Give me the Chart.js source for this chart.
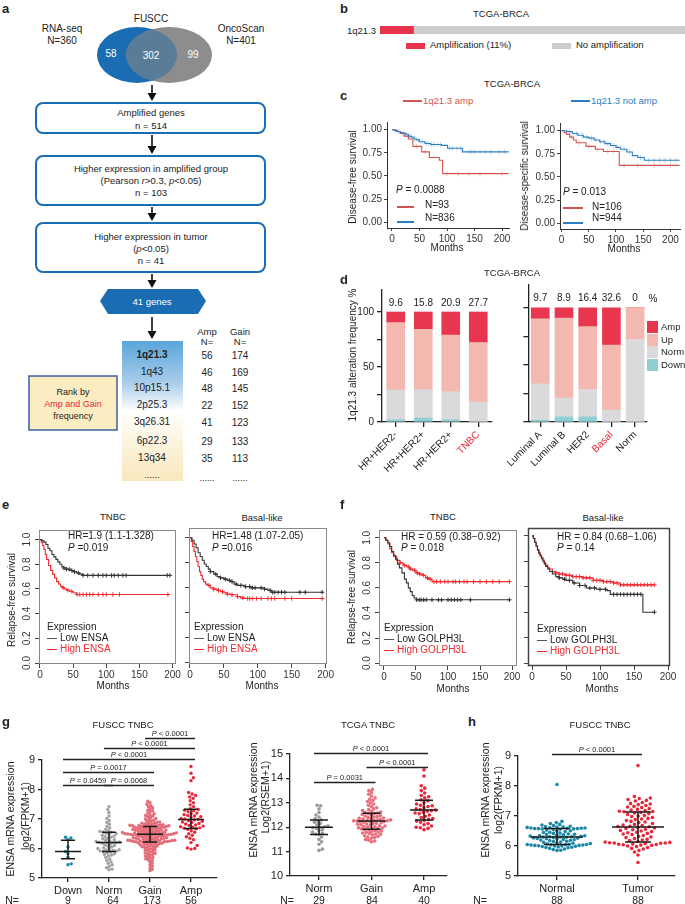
<!DOCTYPE html>
<html><head><meta charset="utf-8">
<script src="https://cdn.jsdelivr.net/npm/chart.js@4.4.1/dist/chart.umd.min.js"></script>
<style>
html,body{margin:0;padding:0;background:#fff;}
body{width:685px;height:904px;position:relative;overflow:hidden;font-family:"Liberation Sans",Arial,sans-serif;color:#222;}
.t{position:absolute;white-space:nowrap;line-height:1;}
.ln{position:absolute;}
canvas{position:absolute;}
svg{position:absolute;left:0;top:0;}
</style></head><body>
<svg id="flow" width="685" height="904"></svg>
<script>
// ================= DATA =================
// panel a
const vennSets=['RNA-seq','OncoScan'];
const vennTotals=[360,401];
const vennParts=[58,302,99];
const flowCounts=[514,103,41];
const regions=['1q21.3','1q43','10p15.1','2p25.3','3q26.31','6p22.3','13q34'];
const regionAmpN=[56,46,48,22,41,29,35];
const regionGainN=[174,169,145,152,123,133,113];
// panel b
const ampPercent=11;
// panel c (Kaplan-Meier, TCGA-BRCA)
const dfsAmpT=[0,8,15,22,30,38,54,68,86,92,212];
const dfsAmpS=[1,0.98,0.96,0.93,0.90,0.82,0.76,0.70,0.67,0.525,0.525];
const dfsAmpCens=[20,28,45,60,100,120,140,160,200];
const dfsNotT=[0,5,10,15,20,25,30,35,40,45,50,60,70,80,90,101,128,212];
const dfsNotS=[1,0.99,0.98,0.97,0.96,0.95,0.93,0.92,0.90,0.89,0.87,0.85,0.84,0.84,0.83,0.80,0.76,0.76];
const dfsNotCens=[12,25,33,42,48,55,62,66,72,76,82,88,105,110,118,125,140,145,150,160,170,180,195,205];
const dssAmpT=[0,5,9,15,22,27,45,62,77,106,217];
const dssAmpS=[1,0.98,0.96,0.93,0.90,0.87,0.83,0.80,0.775,0.625,0.625];
const dssAmpCens=[18,32,50,65,85,95,115,140,170,200];
const dssNotT=[0,10,20,30,40,50,60,70,80,90,100,108,120,130,140,152,217];
const dssNotS=[1,0.99,0.97,0.95,0.93,0.92,0.90,0.88,0.86,0.84,0.82,0.80,0.77,0.73,0.71,0.68,0.68];
const dssNotCens=[15,28,38,46,55,63,72,78,85,95,102,115,125,145,160,170,180,190,200,210];
// panel d
const dCatsL=['HR+HER2-','HR+HER2+','HR-HER2+','TNBC'];
const dDownL=[2,3.5,2,0];
const dNormL=[27,26,25.5,18];
const dUpL=[61.4,54.7,51.6,54.3];
const dAmpL=[9.6,15.8,20.9,27.7];
const dCatsR=['Luminal A','Luminal B','HER2','Basal','Norm'];
const dDownR=[1.5,4.5,4.5,0,0];
const dNormR=[32,16.5,24,10.5,72.5];
const dUpR=[56.8,70.1,55.1,56.9,27.5];
const dAmpR=[9.7,8.9,16.4,32.6,0];
// panel e (ENSA)
const eTnbcLowT=[0,3,6,9,12,15,18,21,24,27,30,33,36,40,45,50,55,60,65,196];
const eTnbcLowS=[1,0.99,0.98,0.96,0.93,0.91,0.88,0.86,0.84,0.82,0.80,0.78,0.77,0.76,0.75,0.74,0.73,0.72,0.71,0.71];
const eTnbcLowCens=[36,40,44,48,52,58,65,72,80,88,95,100,108,112,118,125,130,192,196];
const eTnbcHighT=[0,2,4,6,8,10,13,16,19,22,25,28,31,34,37,40,45,50,55,195];
const eTnbcHighS=[1,0.98,0.95,0.92,0.88,0.84,0.79,0.75,0.72,0.69,0.66,0.64,0.62,0.61,0.60,0.59,0.58,0.57,0.555,0.555];
const eTnbcHighCens=[35,42,48,56,60,65,70,75,80,88,95,100,110,120,193];
const eBasLowT=[0,3,6,9,12,15,18,21,24,27,30,35,40,45,50,55,60,65,70,80,90,100,110,115,120,195];
const eBasLowS=[1,0.98,0.95,0.92,0.88,0.85,0.82,0.79,0.77,0.75,0.73,0.71,0.69,0.68,0.67,0.66,0.65,0.63,0.62,0.61,0.60,0.60,0.59,0.58,0.565,0.565];
const eBasLowCens=[30,38,45,52,58,62,68,75,82,88,92,96,105,110,118,122,125,130,135,140,162,170,195];
const eBasHighT=[0,2,4,6,8,10,12,14,16,18,20,23,26,30,35,40,45,50,55,60,70,75,80,195];
const eBasHighS=[1,0.97,0.93,0.89,0.85,0.81,0.77,0.73,0.70,0.67,0.65,0.63,0.62,0.60,0.59,0.58,0.57,0.56,0.55,0.545,0.53,0.52,0.515,0.515];
const eBasHighCens=[28,35,42,48,55,62,70,78,85,88,92,98,105,115,120,125,140,150,195];
// panel f (GOLPH3L)
const fTnbcLowT=[0,3,6,9,12,15,18,21,24,28,32,35,38,41,44,47,51,196];
const fTnbcLowS=[1,0.98,0.96,0.93,0.89,0.86,0.83,0.79,0.76,0.72,0.67,0.64,0.60,0.57,0.54,0.52,0.505,0.505];
const fTnbcLowCens=[51,55,58,62,66,75,85,90,100,105,110,115,120,135,196];
const fTnbcHighT=[0,3,6,9,12,15,20,25,30,35,40,45,50,55,60,65,70,75,196];
const fTnbcHighS=[1,0.98,0.95,0.91,0.88,0.85,0.82,0.80,0.78,0.77,0.75,0.74,0.72,0.71,0.70,0.68,0.67,0.65,0.65];
const fTnbcHighCens=[25,32,38,42,48,52,56,62,68,72,78,82,88,95,100,108,112,118,125,130,140,150,160,170,180,196];
const fBasLowT=[0,2,4,6,8,10,12,14,16,18,20,23,26,30,35,40,45,50,60,70,80,95,110,115,163,180];
const fBasLowS=[1,0.98,0.95,0.92,0.89,0.86,0.84,0.82,0.80,0.78,0.76,0.74,0.72,0.70,0.68,0.67,0.66,0.65,0.63,0.61,0.59,0.58,0.57,0.54,0.40,0.40];
const fBasLowCens=[40,48,55,62,70,78,85,92,100,108,120,125,130,135,140,145,150,155,160,180];
const fBasHighT=[0,2,4,6,8,10,12,14,16,18,20,23,26,30,35,40,50,60,75,90,105,120,130,180];
const fBasHighS=[1,0.98,0.95,0.92,0.89,0.87,0.85,0.83,0.81,0.79,0.77,0.75,0.74,0.72,0.71,0.70,0.69,0.68,0.67,0.65,0.64,0.63,0.615,0.615];
const fBasHighCens=[30,35,40,45,50,55,60,65,70,75,80,85,90,95,100,105,110,115,120,125,130,135,140,145,150,155,160,165,170,175,180];
// panel g (FUSCC TNBC)
const gCats=['Down','Norm','Gain','Amp'];
const gN=[9,64,173,56];
const gDown=[6.38,6.36,6.30,6.05,5.9,5.82,5.7,5.48,5.45];
const gNorm=[7.42,7.32,7.22,7.1,7.02,6.95,6.88,6.82,6.75,6.7,6.65,6.6,6.58,6.56,6.55,6.52,
 6.5,6.48,6.45,6.42,6.4,6.38,6.35,6.33,6.3,6.28,6.26,6.24,6.22,6.21,6.2,6.2,
 6.19,6.18,6.15,6.12,6.1,6.08,6.05,6.02,6.0,5.98,5.96,5.95,5.93,5.92,5.91,5.9,
 5.88,5.85,5.82,5.8,5.78,5.75,5.7,5.65,5.6,5.55,5.5,5.45,5.4,5.35,5.3,5.28];
const gGain=[7.6,7.55,7.5,7.45,7.42,7.38,7.35,7.3,7.28,7.25,7.2,7.18,7.15,7.12,7.1,7.08,7.05,7.02,7.0,6.98,6.96,6.94,6.92,6.9,6.89,6.88,6.86,6.85,6.84,6.83,6.82,6.81,6.8,6.79,6.79,6.78,6.78,6.77,6.77,6.76,6.76,6.75,6.75,
 6.74,6.73,6.72,6.72,6.71,6.7,6.7,6.69,6.68,6.68,6.67,6.66,6.65,6.65,6.64,6.63,6.62,6.62,6.61,6.6,6.6,6.59,6.58,6.58,6.57,6.56,6.55,6.55,6.54,6.53,6.53,6.52,6.52,6.51,6.51,6.5,6.5,6.5,6.49,6.49,6.49,6.48,6.48,
 6.48,
 6.47,6.47,6.46,6.46,6.45,6.45,6.44,6.43,6.42,6.42,6.41,6.4,6.4,6.39,6.38,6.37,6.37,6.36,6.35,6.35,6.34,6.33,6.32,6.32,6.31,6.3,6.3,6.29,6.28,6.28,6.27,6.27,6.26,6.26,6.25,6.25,6.24,6.24,6.23,6.23,6.22,6.22,6.22,
 6.21,6.2,6.19,6.18,6.17,6.16,6.15,6.14,6.13,6.12,6.1,6.09,6.08,6.06,6.05,6.04,6.02,6.0,5.98,5.96,5.95,5.93,5.9,5.88,5.86,5.84,5.82,5.8,5.78,5.75,5.72,5.7,5.68,5.65,5.62,5.6,5.55,5.5,5.45,5.4,5.35,5.3,5.25];
const gAmp=[8.78,8.55,8.4,8.3,7.9,7.85,7.8,7.75,7.7,7.62,7.55,7.48,7.42,7.35,
 7.32,7.3,7.28,7.25,7.2,7.18,7.15,7.12,7.1,7.08,7.05,7.02,7.0,6.99,
 6.97,6.95,6.92,6.9,6.88,6.85,6.83,6.8,6.78,6.76,6.74,6.72,6.7,6.69,
 6.67,6.65,6.6,6.55,6.5,6.45,6.4,6.35,6.3,6.2,6.1,6.02,6.0,5.98];
const gMed=[5.9,6.2,6.48,6.98], gQ1=[5.65,5.9,6.22,6.68], gQ3=[6.28,6.55,6.75,7.33];
const gSigA=[2,1,0,0,0,1], gSigB=[3,3,3,2,1,2];
const gSigY=[9.75,9.41,9.03,8.59,8.15,8.15];
const gSigP=[' < 0.0001',' < 0.0001',' < 0.0001',' = 0.0017',' = 0.0459',' = 0.0068'];
// panel g right (TCGA TNBC)
const tCats=['Norm','Gain','Amp'];
const tN=[29,84,40];
const tNorm=[12.9,12.88,12.75,12.6,12.5,12.42,12.35,12.3,12.25,12.2,12.15,12.1,12.05,12.02,12.0,11.98,11.95,11.9,11.85,11.8,11.75,11.72,11.7,11.6,11.5,11.4,11.3,11.1,11.05];
const tGain=[13.55,13.5,13.42,13.35,13.28,13.2,13.15,13.1,13.05,13.0,12.95,12.9,12.85,12.8,12.75,12.72,12.68,12.65,12.62,12.6,12.58,
 12.56,12.55,12.52,12.5,12.48,12.46,12.44,12.42,12.4,12.38,12.36,12.35,12.33,12.32,12.3,12.29,12.28,12.27,12.26,12.26,12.25,
 12.24,12.23,12.22,12.2,12.18,12.16,12.15,12.13,12.12,12.1,12.08,12.06,12.05,12.03,12.02,12.0,11.98,11.97,11.96,11.95,11.93,
 11.9,11.88,11.86,11.84,11.82,11.8,11.78,11.76,11.74,11.72,11.7,11.68,11.65,11.62,11.6,11.58,11.55,11.5,11.47,11.43,11.4];
const tAmp=[14.35,14.1,13.7,13.6,13.5,13.4,13.3,13.25,13.2,13.12,13.08,13.0,12.95,12.9,12.88,12.85,12.8,12.75,12.72,12.7,
 12.68,12.65,12.6,12.58,12.55,12.5,12.45,12.4,12.35,12.32,12.28,12.25,12.2,12.15,12.1,12.05,12.0,11.98,11.95,11.9];
const tMed=[12.0,12.25,12.7], tQ1=[11.7,11.92,12.3], tQ3=[12.3,12.57,13.1];
const tSigA=[0,1,0], tSigB=[2,2,1], tSigY=[15.05,14.48,13.85];
const tSigP=[' < 0.0001',' < 0.0001',' = 0.0031'];
// panel h (FUSCC TNBC normal vs tumor)
const hCats=['Normal','Tumor'];
const hN=[88,88];
const hNormal=[8.05,6.82,6.78,6.75,6.72,6.7,6.68,6.66,6.65,6.64,6.63,6.62,6.61,6.6,6.6,6.59,6.59,6.58,6.58,6.58,6.57,6.57,
 6.56,6.55,6.53,6.51,6.5,6.48,6.46,6.45,6.43,6.42,6.4,6.39,6.38,6.37,6.36,6.35,6.34,6.33,6.32,6.31,6.31,6.3,
 6.3,6.29,6.28,6.27,6.26,6.25,6.24,6.23,6.22,6.21,6.2,6.19,6.18,6.16,6.15,6.13,6.12,6.1,6.09,6.08,6.07,6.06,
 6.05,6.05,6.04,6.04,6.03,6.03,6.02,6.02,6.01,6.0,6.0,5.99,5.98,5.97,5.96,5.95,5.94,5.92,5.9,5.88,5.86,5.85];
const hTumor=[8.68,7.65,7.6,7.58,7.55,7.52,7.5,7.45,7.42,7.4,7.38,7.35,7.32,7.3,7.28,7.25,7.22,7.2,7.18,7.16,7.15,7.14,
 7.12,7.1,7.08,7.05,7.02,7.0,6.98,6.95,6.92,6.9,6.88,6.85,6.82,6.8,6.78,6.75,6.72,6.7,6.68,6.66,6.65,6.64,
 6.62,6.6,6.58,6.56,6.54,6.52,6.5,6.48,6.46,6.44,6.42,6.4,6.38,6.35,6.32,6.3,6.28,6.25,6.22,6.2,6.18,6.15,
 6.13,6.12,6.11,6.1,6.1,6.09,6.08,6.07,6.06,6.05,6.04,6.03,6.02,6.0,5.98,5.95,5.92,5.9,5.85,5.8,5.7,5.45];
const hMed=[6.3,6.63], hQ1=[6.05,6.13], hQ3=[6.58,7.13];
const hSigA=[0], hSigB=[1], hSigY=[9.07], hSigP=[' < 0.0001'];

// ================= HELPERS =================
const FF='"Liberation Sans", Arial, sans-serif';
Chart.defaults.font.family=FF;
Chart.defaults.font.size=10;
Chart.defaults.color='#222';
Chart.defaults.plugins.legend.display=false;
Chart.defaults.plugins.tooltip.enabled=false;
Chart.defaults.animation=false;

function txt(x,y,html,o={}){
  const d=document.createElement('div');d.className='t';d.innerHTML=html;
  const s=d.style;s.left=x+'px';s.top=y+'px';s.fontSize=(o.fs||10)+'px';
  if(o.color)s.color=o.color; if(o.bold)s.fontWeight='bold';
  const tx=o.a==='l'?'0':o.a==='r'?'-100%':'-50%';
  s.transform=`translate(${tx},-50%)`+(o.rot?` rotate(${o.rot}deg)`:'');
  document.body.appendChild(d);return d;
}
function hl(x1,x2,y,color,w){const d=document.createElement('div');d.className='ln';
  d.style.cssText+=`left:${x1}px;top:${y-w/2}px;width:${x2-x1}px;height:${w}px;background:${color};`;document.body.appendChild(d);}
function rect(x,y,w,h,color){const d=document.createElement('div');d.className='ln';
  d.style.cssText+=`left:${x}px;top:${y}px;width:${w}px;height:${h}px;background:${color};`;document.body.appendChild(d);}

function mkChart(area,cfg,pad){
  const c=document.createElement('canvas');
  const L=area.l-pad.yW-pad.pl, T=area.t-pad.pt;
  const W=area.r+pad.pr-L, H=area.b+pad.xH+pad.pb-T;
  c.width=W;c.height=H;c.style.left=L+'px';c.style.top=T+'px';c.style.width=W+'px';c.style.height=H+'px';
  document.body.appendChild(c);
  cfg.options=cfg.options||{};
  Object.assign(cfg.options,{responsive:false,animation:false,devicePixelRatio:1,
    layout:{padding:{left:pad.pl,top:pad.pt,right:pad.pr,bottom:pad.pb}}});
  const sc=cfg.options.scales;
  sc.x.afterFit=s=>{s.height=pad.xH;};
  sc.y.afterFit=s=>{s.width=pad.yW;};
  return new Chart(c,cfg);
}
function survAt(t,s,x){let v=s[0];for(let i=0;i<t.length;i++){if(t[i]<=x)v=s[i];else break;}return v;}
function boxPlugin(color,w){return{id:'box',afterDraw(ch){const a=ch.chartArea,ctx=ch.ctx;ctx.save();ctx.strokeStyle=color;ctx.lineWidth=w;
  ctx.strokeRect(Math.round(a.left)+0.5,Math.round(a.top)+0.5,Math.round(a.right-a.left)-1,Math.round(a.bottom-a.top)-1);ctx.restore();}};}

function km(area,pad,curves,xr,yr,o){
  const datasets=[];
  curves.forEach(c=>{
    datasets.push({type:'line',data:c.t.map((x,i)=>({x,y:c.s[i]})),borderColor:c.color,borderWidth:c.w||1.1,
      pointRadius:0,stepped:true,fill:false,order:c.order||0});
    if(c.cens) datasets.push({type:'line',showLine:false,data:c.cens.map(x=>({x,y:survAt(c.t,c.s,x)})),
      pointStyle:o.cstyle,pointRadius:o.cr,pointRotation:o.crot||0,borderColor:c.ccolor||c.color,
      borderWidth:1,backgroundColor:'transparent',order:c.order||0});
  });
  const R=o.R;
  const cfg={type:'line',data:{datasets},options:{scales:{
    x:{type:'linear',min:xr[0],max:xr[1],border:{display:!R,color:'#333',width:1},
      grid:{drawOnChartArea:false,drawTicks:true,tickLength:R?4:3,color:'#444'},
      ticks:{stepSize:50,includeBounds:false,autoSkip:false,padding:R?1:2,font:{size:10},color:'#333',callback:v=>String(v)}},
    y:{type:'linear',min:yr[0],max:yr[1],border:{display:!R,color:'#333',width:1},
      grid:{drawOnChartArea:false,drawTicks:true,tickLength:R?4:3,color:'#444'},
      ticks:{stepSize:R?0.2:0.25,includeBounds:false,autoSkip:false,display:o.showY,padding:R?1:2,font:{size:10},color:'#333',
        minRotation:R?90:0,maxRotation:R?90:0,crossAlign:R?'center':'near',
        callback:v=>v.toFixed(R?1:2)}}
  }},plugins:R?[boxPlugin(o.boxColor,o.boxW||1)]:[]};
  return mkChart(area,cfg,pad);
}

function swarm(vals,pxPerY,d){
  const pts=vals.map((v,k)=>({y:v*pxPerY,k})).sort((a,b)=>a.y-b.y);
  const placed=[];const out=new Array(vals.length);let flip=1;
  for(const p of pts){
    const cands=[0];
    for(const q of placed){const dy=Math.abs(p.y-q.y);if(dy<d){const dx=Math.sqrt(d*d-dy*dy);cands.push(q.x+dx,q.x-dx);}}
    cands.sort((a,b)=>(Math.abs(a)-Math.abs(b))||(flip*(a-b)));
    let chosen=0;
    for(const c of cands){let ok=true;for(const q of placed){const dy=p.y-q.y;if(Math.abs(dy)<d&&(c-q.x)*(c-q.x)+dy*dy<d*d-1e-6){ok=false;break;}}if(ok){chosen=c;break;}}
    flip=-flip;p.x=chosen;placed.push(p);out[p.k]=chosen;
  }
  return out;
}
function statPlugin(med,lo,hi,mw,cw){return{id:'stat',afterDatasetsDraw(ch){const ctx=ch.ctx,xs=ch.scales.x,ys=ch.scales.y;
  ctx.save();ctx.strokeStyle='#1a1a1a';ctx.lineWidth=1.5;
  med.forEach((m,i)=>{const x=xs.getPixelForValue(i);const ym=ys.getPixelForValue(m),yl=ys.getPixelForValue(lo[i]),yh=ys.getPixelForValue(hi[i]);
    ctx.beginPath();ctx.moveTo(x-mw,ym);ctx.lineTo(x+mw,ym);ctx.moveTo(x,yl);ctx.lineTo(x,yh);
    ctx.moveTo(x-cw,yl);ctx.lineTo(x+cw,yl);ctx.moveTo(x-cw,yh);ctx.lineTo(x+cw,yh);ctx.stroke();});
  ctx.restore();}};}
function sigPlugin(A,B,Y,P,fs){return{id:'sig',afterDatasetsDraw(ch){const ctx=ch.ctx,xs=ch.scales.x,ys=ch.scales.y;
  ctx.save();ctx.strokeStyle='#222';ctx.lineWidth=1.3;ctx.fillStyle='#222';ctx.textBaseline='alphabetic';ctx.textAlign='left';
  A.forEach((a,i)=>{const y=Math.round(ys.getPixelForValue(Y[i]))+0.5;const x1=xs.getPixelForValue(a)-5,x2=xs.getPixelForValue(B[i])+4;
    ctx.beginPath();ctx.moveTo(x1,y);ctx.lineTo(x2,y);ctx.stroke();
    ctx.font=`italic ${fs}px ${FF}`;const wP=ctx.measureText('P').width;ctx.font=`${fs}px ${FF}`;const wR=ctx.measureText(P[i]).width;
    const x0=(x1+x2)/2-(wP+wR)/2;ctx.font=`italic ${fs}px ${FF}`;ctx.fillText('P',x0,y-3);ctx.font=`${fs}px ${FF}`;ctx.fillText(P[i],x0+wP,y-3);});
  ctx.restore();}};}

function dotPlot(area,pad,groups,colors,dList,rad,cats,xr,yr,ystep,med,lo,hi,mw,cw,sig){
  const pxPerY=(area.b-area.t)/(yr[1]-yr[0]), pxPerX=(area.r-area.l)/(xr[1]-xr[0]);
  const datasets=groups.map((g,i)=>{const off=swarm(g,pxPerY,dList[i]);
    return{type:'scatter',data:g.map((v,k)=>({x:i+off[k]/pxPerX,y:v})),pointRadius:rad,pointHoverRadius:rad,
      backgroundColor:colors[i],borderWidth:0,pointStyle:'circle'};});
  const cfg={type:'scatter',data:{datasets},options:{scales:{
    x:{type:'linear',min:xr[0],max:xr[1],border:{color:'#222',width:1.3},grid:{drawOnChartArea:false,tickLength:4,color:'#222',lineWidth:1.3},
      ticks:{stepSize:1,includeBounds:false,autoSkip:false,padding:2,font:{size:11},color:'#222',callback:v=>cats[v]??''}},
    y:{type:'linear',min:yr[0],max:yr[1],border:{color:'#222',width:1.3},grid:{drawOnChartArea:false,tickLength:4,color:'#222',lineWidth:1.3},
      ticks:{stepSize:ystep,includeBounds:false,autoSkip:false,padding:3,font:{size:11},color:'#222',callback:v=>String(v)}}
  }},plugins:[statPlugin(med,lo,hi,mw,cw),sigPlugin(sig[0],sig[1],sig[2],sig[3],7.5)]};
  return mkChart(area,cfg,pad);
}

// ================= PANEL A (flowchart) =================
const svgNS='http://www.w3.org/2000/svg';const svg=document.getElementById('flow');
function sv(tag,attrs,parent){const e=document.createElementNS(svgNS,tag);for(const k in attrs)e.setAttribute(k,attrs[k]);(parent||svg).appendChild(e);return e;}
const defs=sv('defs',{});
const cp=sv('clipPath',{id:'cpGrey'},defs);sv('ellipse',{cx:169,cy:55,rx:43,ry:28},cp);
const lg=sv('linearGradient',{id:'gcol',x1:0,y1:0,x2:0,y2:1},defs);
[['0','#5aa5da'],['0.3','#a9cdea'],['0.5','#ffffff'],['0.72','#fcf4df'],['1','#f8e8bd']].forEach(s=>sv('stop',{offset:s[0],'stop-color':s[1]},lg));
sv('ellipse',{cx:137,cy:55,rx:40,ry:28,fill:'#1b6db3'});
sv('ellipse',{cx:169,cy:55,rx:43,ry:28,fill:'#8d8d8d'});
sv('ellipse',{cx:137,cy:55,rx:40,ry:28,fill:'#597c98','clip-path':'url(#cpGrey)'});
function arrow(x,y1,y2){sv('line',{x1:x,y1:y1,x2:x,y2:y2-6,stroke:'#111','stroke-width':1.6});sv('polygon',{points:`${x-4.5},${y2-8} ${x+4.5},${y2-8} ${x},${y2}`,fill:'#111'});}
arrow(152,85,101);arrow(152,135,154);arrow(152,207,221);arrow(152,274,288);arrow(152,317,339);
[[103,133],[156,205],[223,272]].forEach(b=>sv('rect',{x:36,y:b[0],width:229,height:b[1]-b[0],rx:7,fill:'#fff',stroke:'#1a6db5','stroke-width':2}));
sv('polygon',{points:'100,301 108,289 198,289 206,301 198,314 108,314',fill:'#1b6db3'});
sv('rect',{x:122,y:341,width:61,height:140,fill:'url(#gcol)'});
sv('rect',{x:29,y:376,width:88,height:54,fill:'#fbecc1',stroke:'#3d5f9e','stroke-width':1.5});

txt(2,8,'a',{fs:13,bold:true,a:'l'});
txt(151,19,'FUSCC',{fs:10});
txt(62,29,vennSets[0],{fs:10});txt(62,41,'N='+vennTotals[0],{fs:10});
txt(241,29,vennSets[1],{fs:10});txt(241,41,'N='+vennTotals[1],{fs:10});
txt(111,54,vennParts[0],{fs:10,color:'#fff'});txt(151,56,vennParts[1],{fs:10,color:'#fff'});txt(193,55,vennParts[2],{fs:10,color:'#fff'});
txt(151,113,'Amplified genes',{fs:9.5});txt(151,126,'n = '+flowCounts[0],{fs:9.5});
txt(151,169,'Higher expression in amplified group',{fs:9.5});
txt(151,181,'(Pearson <i>r</i>&gt;0.3, <i>p</i>&lt;0.05)',{fs:9.5});txt(151,193,'n = '+flowCounts[1],{fs:9.5});
txt(151,237,'Higher expression in tumor',{fs:9.5});txt(151,249,'(<i>p</i>&lt;0.05)',{fs:9.5});txt(151,261,'n = '+flowCounts[2],{fs:9.5});
txt(152,302,flowCounts[2]+' genes',{fs:9.5,color:'#fff'});
txt(207,332,'Amp',{fs:9.5});txt(207,342,'N=',{fs:9.5});txt(240,332,'Gain',{fs:9.5});txt(240,342,'N=',{fs:9.5});
const rowsY=[355,372,388,405,422,441,458];
regions.forEach((r,i)=>{txt(152,rowsY[i],r,{fs:10,bold:i===0});txt(207,rowsY[i]+1,regionAmpN[i],{fs:10});txt(240,rowsY[i]+1,regionGainN[i],{fs:10});});
txt(152,475,'......',{fs:9});txt(207,478,'......',{fs:9});txt(240,478,'......',{fs:9});
txt(73,392,'Rank by',{fs:9});txt(73,404,'Amp and Gain',{fs:9,color:'#e8283a'});txt(73,416,'frequency',{fs:9});

// ================= PANEL B =================
txt(340,8,'b',{fs:13,bold:true,a:'l'});
txt(501,14,'TCGA-BRCA',{fs:9.5});
txt(376,31,regions[0],{fs:9.5,a:'r'});
mkChart({l:380,t:26,r:685,b:34},{type:'bar',data:{labels:[regions[0]],datasets:[
  {data:[ampPercent],backgroundColor:'#e9334c',barPercentage:1,categoryPercentage:1},
  {data:[100-ampPercent],backgroundColor:'#cdcdcd',barPercentage:1,categoryPercentage:1}]},
  options:{indexAxis:'y',scales:{x:{display:false,stacked:true,min:0,max:100},y:{display:false,stacked:true}}}},
  {yW:0,xH:0,pl:0,pt:0,pr:0,pb:0});
rect(406,43,19,6,'#e9334c');txt(430,45,'Amplification ('+ampPercent+'%)',{fs:9.5,a:'l'});
rect(552,43,19,6,'#cdcdcd');txt(576,45,'No amplification',{fs:9.5,a:'l'});

// ================= PANEL C =================
const cRed='#d2544f', cBlue='#2a7ec3';
txt(512,84,'TCGA-BRCA',{fs:9.5});
txt(340,95,'c',{fs:13,bold:true,a:'l'});
hl(403,422,101,cRed,1.3);txt(423,101,'1q21.3 amp',{fs:9.5,a:'l',color:cRed});
hl(571,590,101,cBlue,1.3);txt(591,101,'1q21.3 not amp',{fs:9.5,a:'l',color:cBlue});
km({l:387,t:118,r:510,b:228},{yW:40,xH:16,pl:0,pt:4,pr:4,pb:0},[
  {t:dfsNotT,s:dfsNotS,color:cBlue,cens:dfsNotCens,ccolor:'rgba(42,126,195,0.35)'},
  {t:dfsAmpT,s:dfsAmpS,color:cRed,cens:dfsAmpCens,ccolor:'rgba(210,84,79,0.35)'}],
  [-9,212.6],[-0.0625,1.083],{R:false,showY:true,cstyle:'line',cr:2.5,crot:90});
km({l:560,t:119,r:685,b:229},{yW:40,xH:16,pl:0,pt:4,pr:0,pb:0},[
  {t:dssNotT,s:dssNotS,color:cBlue,cens:dssNotCens,ccolor:'rgba(42,126,195,0.35)'},
  {t:dssAmpT,s:dssAmpS,color:cRed,cens:dssAmpCens,ccolor:'rgba(210,84,79,0.35)'}],
  [-2.8,217.6],[-0.0625,1.083],{R:false,showY:true,cstyle:'line',cr:2.5,crot:90});
txt(353,177,'Disease-free survival',{fs:10,rot:-90});
txt(525,176,'Disease-specific survival',{fs:10,rot:-90});
txt(447,248,'Months',{fs:10});txt(624,249,'Months',{fs:10});
txt(396,190,'<i>P</i> = 0.0088',{fs:10,a:'l'});
hl(397,414,207,cRed,1.3);txt(425,205,'N=93',{fs:10,a:'l'});
hl(397,414,222,cBlue,1.8);txt(425,218,'N=836',{fs:10,a:'l'});
txt(563,192,'<i>P</i> = 0.013',{fs:10,a:'l'});
hl(563,583,208,cRed,1.3);txt(592,207,'N=106',{fs:10,a:'l'});
hl(563,583,223,cBlue,1.8);txt(592,218,'N=944',{fs:10,a:'l'});

// ================= PANEL D =================
const cAmp='#e8364f',cUp='#f3b9b0',cNorm='#dadadc',cDown='#8fcfd3';
txt(512,273,'TCGA-BRCA',{fs:9.5});
txt(340,279,'d',{fs:13,bold:true,a:'l'});
function topLab(vals){return{id:'toplab',afterDatasetsDraw(ch){const ctx=ch.ctx;ctx.save();ctx.font=`10px ${FF}`;ctx.fillStyle='#222';
  ctx.textAlign='center';ctx.textBaseline='middle';const y=ch.scales.y.getPixelForValue(108);
  vals.forEach((v,i)=>ctx.fillText(String(v),ch.scales.x.getPixelForValue(i),y));ctx.restore();}};}
function stackChart(area,pad,cats,down,norm,up,amp,red,showY){
  const ds=(d,c)=>({data:d,backgroundColor:c,borderWidth:0,barThickness:18});
  return mkChart(area,{type:'bar',data:{labels:cats,datasets:[ds(down,cDown),ds(norm,cNorm),ds(up,cUp),ds(amp,cAmp)]},
    options:{scales:{
      x:{stacked:true,border:{color:'#222',width:1.3},grid:{offset:false,drawOnChartArea:false,tickLength:5,color:'#222',lineWidth:1.3},
        ticks:{minRotation:45,maxRotation:45,autoSkip:false,padding:2,font:{size:10},color:c=>red.includes(c.index)?'#e8283a':'#222'}},
      y:{stacked:true,min:0,max:120,border:{color:'#222',width:1.3},grid:{drawOnChartArea:false,tickLength:5,color:'#222',lineWidth:1.3},
        ticks:{display:showY,stepSize:25,includeBounds:false,autoSkip:false,padding:3,font:{size:10},color:'#222',callback:v=>(v%50===0?String(v):'')}}
    }},plugins:[topLab(amp)]},pad);
}
stackChart({l:382,t:285,r:492,b:422},{yW:32,xH:60,pl:0,pt:4,pr:4,pb:0},dCatsL,dDownL,dNormL,dUpL,dAmpL,[3],true);
stackChart({l:514,t:285,r:647,b:422},{yW:8,xH:60,pl:0,pt:4,pr:2,pb:0},dCatsR,dDownR,dNormR,dUpR,dAmpR,[3],false);
txt(653,299,'%',{fs:10});
txt(353,355,'1q21.3 alteration frequency %',{fs:10,rot:-90});
[['Amp',cAmp,327],['Up',cUp,340],['Norm',cNorm,352],['Down',cDown,365]].forEach(l=>{rect(647,l[2]-6,11,12,l[1]);txt(661,l[2],l[0],{fs:9.5,a:'l'});});

// ================= PANEL E / F =================
const kBlack='#333', kRed='#ee2a2f';
txt(2,504,'e',{fs:13,bold:true,a:'l'});
txt(340,504,'f',{fs:13,bold:true,a:'l'});
txt(113,517,'TNBC',{fs:9.5});txt(262,518,'Basal-like',{fs:9.5});
txt(443,517,'TNBC',{fs:9.5});txt(603,518,'Basal-like',{fs:9.5});
km({l:39,t:525,r:176,b:664},{yW:39,xH:18,pl:0,pt:2,pr:6,pb:0},[
  {t:eTnbcLowT,s:eTnbcLowS,color:kBlack,cens:eTnbcLowCens},{t:eTnbcHighT,s:eTnbcHighS,color:kRed,cens:eTnbcHighCens}],
  [-1.5,204.5],[-0.008,1.078],{R:true,showY:true,cstyle:'cross',cr:2.2,boxColor:'#8a8a8a'});
km({l:189,t:525,r:327,b:664},{yW:10,xH:18,pl:0,pt:2,pr:8,pb:0},[
  {t:eBasLowT,s:eBasLowS,color:kBlack,cens:eBasLowCens},{t:eBasHighT,s:eBasHighS,color:kRed,cens:eBasHighCens}],
  [-1.47,201.5],[-0.008,1.078],{R:true,showY:false,cstyle:'cross',cr:2.2,boxColor:'#8a8a8a'});
km({l:379,t:525,r:517,b:666},{yW:39,xH:18,pl:0,pt:2,pr:6,pb:0},[
  {t:fTnbcLowT,s:fTnbcLowS,color:kBlack,cens:fTnbcLowCens},{t:fTnbcHighT,s:fTnbcHighS,color:kRed,cens:fTnbcHighCens}],
  [-7.8,207.8],[-0.023,1.062],{R:true,showY:true,cstyle:'cross',cr:2.2,boxColor:'#8a8a8a'});
km({l:528,t:525,r:670,b:666},{yW:10,xH:18,pl:0,pt:2,pr:10,pb:0},[
  {t:fBasLowT,s:fBasLowS,color:kBlack,cens:fBasLowCens},{t:fBasHighT,s:fBasHighS,color:kRed,cens:fBasHighCens}],
  [-5.9,202.9],[-0.023,1.062],{R:true,showY:false,cstyle:'cross',cr:2.2,boxColor:'#444',boxW:1.5});
txt(12,600,'Relapse-free survival',{fs:10,rot:-90});
txt(352,597,'Relapse-free survival',{fs:10,rot:-90});
txt(113,686,'Months',{fs:10});txt(262,686,'Months',{fs:10});
txt(453,689,'Months',{fs:10});txt(602,689,'Months',{fs:10});
txt(68,536,'HR=1.9 (1.1-1.328)',{fs:10,a:'l'});txt(68,548,'<i>P</i> =0.019',{fs:10,a:'l'});
txt(212,536,'HR=1.48 (1.07-2.05)',{fs:10,a:'l'});txt(212,548,'<i>P</i> =0.016',{fs:10,a:'l'});
txt(401,537,'HR = 0.59 (0.38\u22120.92)',{fs:10,a:'l'});txt(401,548,'<i>P</i> = 0.018',{fs:10,a:'l'});
txt(557,537,'HR = 0.84 (0.68\u22121.06)',{fs:10,a:'l'});txt(557,548,'<i>P</i> = 0.14',{fs:10,a:'l'});
function kmLeg(x,y,gene){txt(x,y,'Expression',{fs:10,a:'l'});hl(x,x+10,y+11,'#555',1);txt(x+13,y+11,'Low '+gene,{fs:10,a:'l'});
  hl(x,x+10,y+22,kRed,1);txt(x+13,y+22,'High '+gene,{fs:10,a:'l',color:kRed});}
kmLeg(47,627,'ENSA');kmLeg(194,627,'ENSA');kmLeg(384,628,'GOLPH3L');kmLeg(537,629,'GOLPH3L');

// ================= PANEL G / H =================
txt(2,721,'g',{fs:13,bold:true,a:'l'});
txt(468,721,'h',{fs:13,bold:true,a:'l'});
txt(123,725,'FUSCC TNBC',{fs:9.5});txt(368,725,'TCGA TNBC',{fs:9.5});txt(600,725,'FUSCC TNBC',{fs:9.5});
dotPlot({l:42,t:760,r:217,b:878},{yW:42,xH:22,pl:0,pt:34,pr:6,pb:0},[gDown,gNorm,gGain,gAmp],
  ['#1b88a8','#a3a3a3','#e46b78','#e8283a'],[3.4,3.2,2.7,3.8],1.7,gCats,[-0.634,3.634],[5,9],1,
  gMed,gQ1,gQ3,13,7,[gSigA,gSigB,gSigY,gSigP]);
dotPlot({l:290,t:754,r:447,b:876},{yW:40,xH:24,pl:0,pt:30,pr:6,pb:0},[tNorm,tGain,tAmp],
  ['#9a9a9a','#eb6f7c','#e8283a'],[3.6,3.3,4.2],1.8,tCats,[-0.552,2.438],[10,15],1,
  tMed,tQ1,tQ3,14,9,[tSigA,tSigB,tSigY,tSigP]);
dotPlot({l:518,t:756,r:675,b:876},{yW:35,xH:24,pl:0,pt:14,pr:8,pb:0},[hNormal,hTumor],
  ['#1b88a8','#e8283a'],[3.8,4.6],1.8,hCats,[-0.481,1.457],[5,9],1,
  hMed,hQ1,hQ3,26,13,[hSigA,hSigB,hSigY,hSigP]);
txt(10,819,'ENSA mRNA expression',{fs:10.5,rot:-90});txt(25,816,'log2(FPKM+1)',{fs:10.5,rot:-90});
txt(253,800,'ENSA mRNA expression',{fs:10.5,rot:-90});txt(265,797,'Log2(RSEM+1)',{fs:10.5,rot:-90});
txt(485,800,'ENSA mRNA expression',{fs:10.5,rot:-90});txt(498,800,'log2(FPKM+1)',{fs:10.5,rot:-90});
const gX=[68,113,152,191], tX=[319,372,424], hX=[557,638];
txt(12,900,'N=',{fs:10.5});gN.forEach((n,i)=>txt(gX[i],900,n,{fs:10.5}));
txt(287,900,'N=',{fs:10.5});tN.forEach((n,i)=>txt(tX[i],900,n,{fs:10.5}));
txt(480,900,'N=',{fs:10.5});hN.forEach((n,i)=>txt(hX[i],900,n,{fs:10.5}));
</script>
</body></html>
